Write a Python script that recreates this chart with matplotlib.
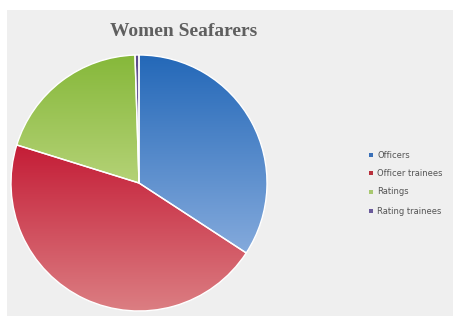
import matplotlib
matplotlib.use("Agg")
import matplotlib.pyplot as plt
import numpy as np
from matplotlib.patches import Rectangle
from matplotlib.colors import LinearSegmentedColormap

categories = ["Officers", "Officer trainees", "Ratings", "Rating trainees"]
values = [34.2, 45.6, 19.7, 0.5]
top_colors = ["#2468b8", "#c41c36", "#86b83a", "#5a4a8a"]
bottom_colors = ["#84aadc", "#dc8084", "#b4d276", "#8a7ab0"]
legend_colors = ["#3a70b8", "#b8303c", "#a8c870", "#6a5a9a"]

W, H = 453, 320
fig = plt.figure(figsize=(W/100, H/100), dpi=100)
fig.patch.set_facecolor("white")
fig.patches.append(Rectangle((7/W, 4/H), 1 - 7/W, (310-4)/H, transform=fig.transFigure,
                             facecolor="#efefef", edgecolor="none", zorder=-5))

cx, cy, r = 139, 183, 128
ax = fig.add_axes([(cx - r)/W, (H - cy - r)/H, 2*r/W, 2*r/H])
ax.set_zorder(2)
ax.set_facecolor("none")
wedges, _ = ax.pie(values, startangle=90, counterclock=False, radius=1,
                   colors=legend_colors,
                   wedgeprops=dict(edgecolor="white", linewidth=1.0))
ax.axis("off")

grad = np.linspace(0, 1, 256).reshape(-1, 1)
for w, c1, c2 in zip(wedges, top_colors, bottom_colors):
    verts = w.get_path().vertices
    y0, y1 = verts[:, 1].min(), verts[:, 1].max()
    cmap = LinearSegmentedColormap.from_list("g", [c1, c2])
    im = ax.imshow(grad, cmap=cmap, extent=[-1, 1, y0, y1], origin="upper",
                   aspect="auto", zorder=1)
    im.set_clip_path(w)
    w.set_facecolor("none")
    w.set_zorder(2)
ax.set_xlim(-1, 1)
ax.set_ylim(-1, 1)
ax.set_aspect("equal")

fig.text(184/W, 1 - 32/H, "Women Seafarers", ha="center", va="center",
         fontsize=14, fontweight="bold", color="#5f5f5f", family="Liberation Serif")

ys = [155, 173, 192, 211]
for lab, col, y in zip(categories, legend_colors, ys):
    fig.patches.append(Rectangle((369/W, 1 - (y + 2)/H), 4/W, 4/H, transform=fig.transFigure,
                                 facecolor=col, edgecolor="none", zorder=3))
    fig.text(377/W, 1 - y/H, lab, ha="left", va="center", fontsize=6,
             color="#555555", family="DejaVu Sans")

fig.savefig("out.png", dpi=100)
